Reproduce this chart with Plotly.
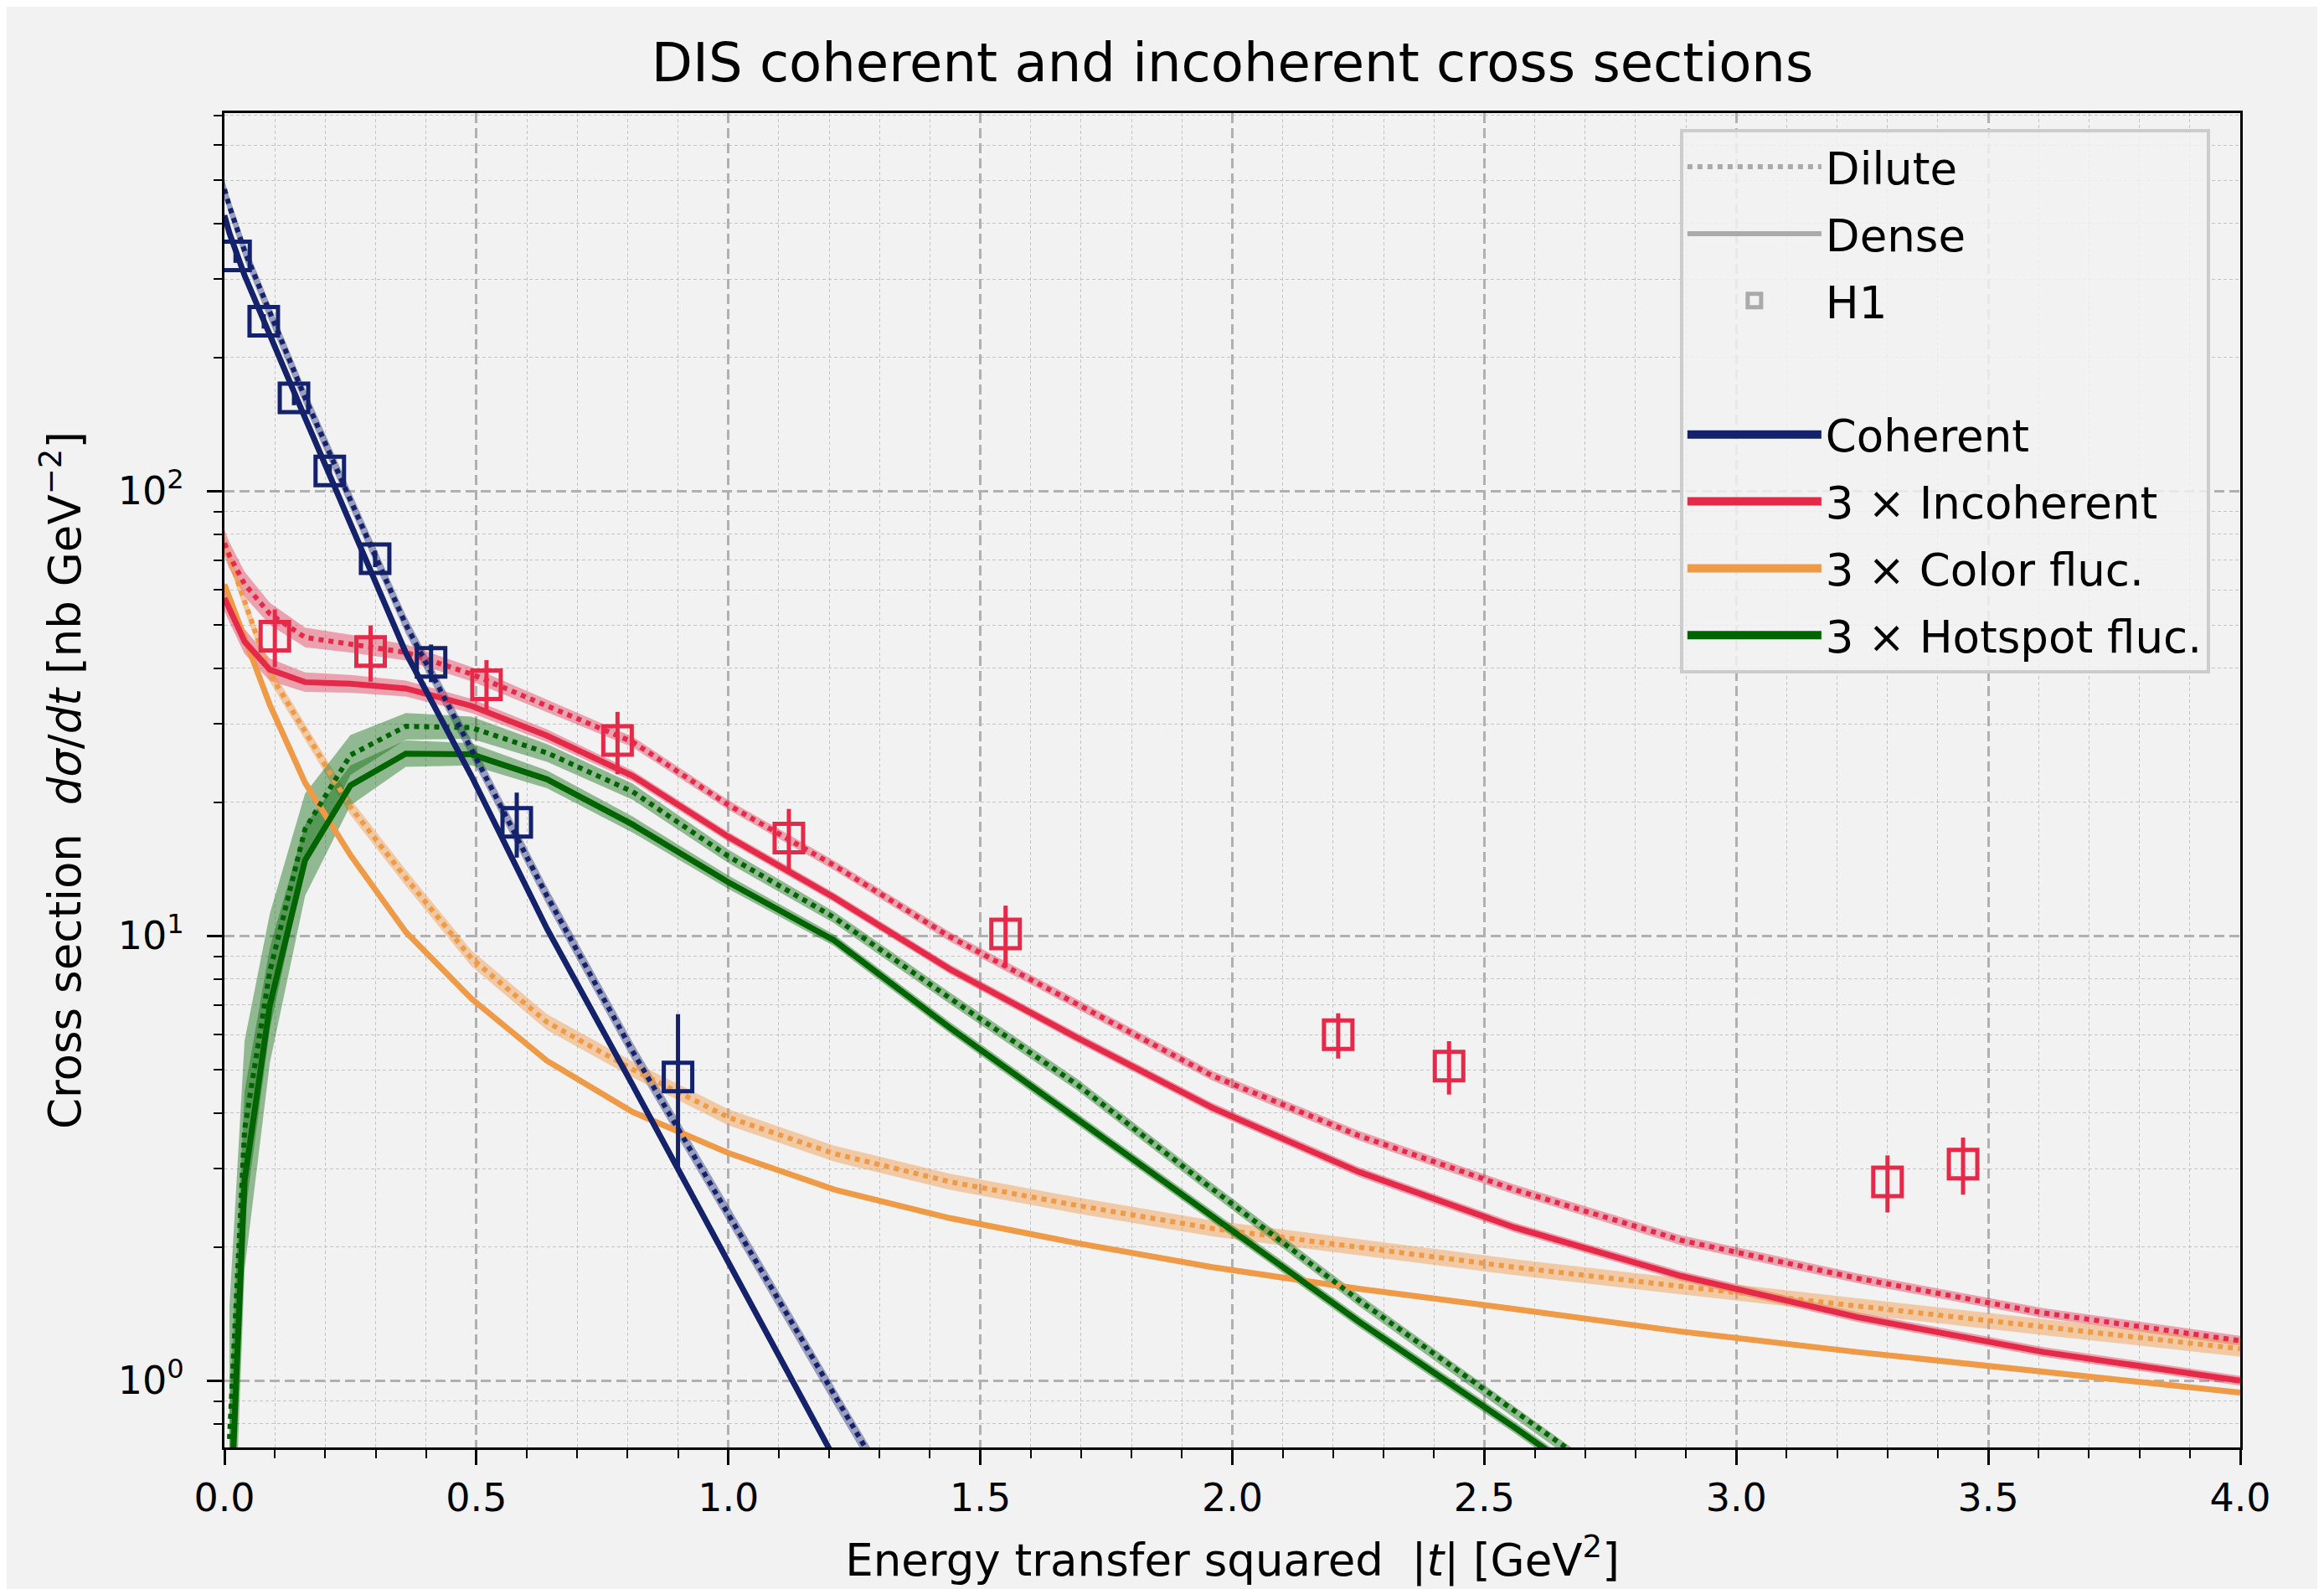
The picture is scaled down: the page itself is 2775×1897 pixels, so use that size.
import plotly.graph_objects as go

# ---------------- data ----------------
T = [0.0, 0.01, 0.04, 0.09, 0.16, 0.25, 0.36, 0.49, 0.64, 0.81, 1.0,
     1.21, 1.44, 1.69, 1.96, 2.25, 2.56, 2.89, 3.24, 3.61, 4.0]

coh_dense = [416.9, 380.2, 305.5, 223.9, 146.2, 84.5, 43.3, 22.9, 10.38, 4.62, 1.85, 0.67, 0.232]
coh_dilute = [477.5, 436.5, 346.7, 251.2, 162.2, 95.5, 50.1, 26.3, 12.3, 5.50, 2.37, 0.925, 0.335]

inc_dense = [57.5, 54.3, 45.9, 39.7, 37.2, 36.9, 36.0, 32.9, 28.2, 22.9, 16.7,
             12.2, 8.41, 5.92, 4.11, 2.95, 2.21, 1.72, 1.39, 1.16, 1.0]
inc_dilute = [76.4, 71.6, 61.8, 53.0, 46.9, 45.4, 43.4, 38.8, 32.9, 27.3, 19.7,
              14.4, 9.95, 7.05, 4.85, 3.56, 2.69, 2.07, 1.70, 1.42, 1.23]

col_dense = [61.7, 57.5, 46.9, 33.1, 22.1, 15.2, 10.2, 7.23, 5.24, 4.02, 3.25,
             2.69, 2.32, 2.04, 1.80, 1.61, 1.45, 1.29, 1.16, 1.05, 0.94]
col_dilute = [76.4, 70.8, 56.2, 38.9, 28.8, 19.5, 13.5, 8.91, 6.40, 5.01, 3.91,
              3.24, 2.80, 2.48, 2.20, 1.995, 1.80, 1.63, 1.47, 1.32, 1.18]

# hotspot fluctuations start at T[1]
hot_dense = [0.43, 2.82, 6.98, 14.8, 21.8, 25.7, 25.6, 22.5, 17.8, 13.2,
             9.77, 6.21, 3.89, 2.34, 1.36, 0.785, 0.427, 0.224, 0.115, 0.056]
hot_dilute = [0.74, 3.67, 8.32, 17.4, 25.5, 29.6, 29.4, 25.8, 21.1, 15.1,
              11.0, 7.24, 4.65, 2.70, 1.52, 0.851, 0.457, 0.240, 0.120, 0.059]

# uncertainty band half-widths (decades)
coh_dense_unc = [0.006] * 13
coh_dilute_unc = [0.02] * 13
inc_unc = [0.03, 0.03, 0.028, 0.025, 0.022, 0.02, 0.018, 0.016, 0.014, 0.012, 0.011,
           0.011, 0.011, 0.011, 0.011, 0.011, 0.011, 0.011, 0.011, 0.011, 0.011]
col_dense_unc = [0.006] * 21
col_dilute_unc = [0.018] * 21
hot_unc = [0.3, 0.2, 0.13, 0.08, 0.045, 0.03, 0.025, 0.02, 0.018, 0.015,
           0.013, 0.013, 0.013, 0.013, 0.013, 0.013, 0.013, 0.013, 0.013, 0.013]

# H1 data
h1_coh_t = [0.022, 0.078, 0.138, 0.209, 0.299, 0.41, 0.58, 0.90]
h1_coh = [338, 241, 162, 111, 70.5, 41.2, 18.0, 4.82]
h1_coh_err = [12, 9, 6, 4, 3, 4, 3, 1.85]

h1_inc_t = [0.10, 0.29, 0.52, 0.78, 1.12, 1.55, 2.21, 2.43, 3.30, 3.45]
h1_inc = [47.2, 43.6, 36.7, 27.5, 16.6, 10.1, 6.0, 5.1, 2.8, 3.07]
h1_inc_err = [7, 6.3, 5, 4.4, 2.7, 1.6, 0.7, 0.7, 0.41, 0.45]

NAVY = "#14216B"
RED = "#E42A48"
ORANGE = "#EF9A47"
GREEN = "#006400"

def rgba(hexc, a):
    h = hexc.lstrip("#")
    r, g, b = int(h[0:2], 16), int(h[2:4], 16), int(h[4:6], 16)
    return f"rgba({r},{g},{b},{a})"

fig = go.Figure()

def add_band(x, y, unc, color, alpha):
    lo = [v / 10 ** u for v, u in zip(y, unc)]
    hi = [v * 10 ** u for v, u in zip(y, unc)]
    fig.add_trace(go.Scatter(x=x, y=lo, mode="lines", line=dict(width=0, color=rgba(color, 0)),
                             showlegend=False, hoverinfo="skip"))
    fig.add_trace(go.Scatter(x=x, y=hi, mode="lines", line=dict(width=0, color=rgba(color, 0)),
                             fill="tonexty", fillcolor=rgba(color, alpha),
                             showlegend=False, hoverinfo="skip"))

def add_line(x, y, color, dash):
    fig.add_trace(go.Scatter(x=x, y=y, mode="lines",
                             line=dict(color=color, width=6 if dash else 7, dash=dash or "solid"),
                             showlegend=False))

# bands
add_band(T[:13], coh_dense, coh_dense_unc, NAVY, 0.35)
add_band(T[:13], coh_dilute, coh_dilute_unc, NAVY, 0.4)
add_band(T, inc_dense, inc_unc, RED, 0.4)
add_band(T, inc_dilute, inc_unc, RED, 0.4)
add_band(T, col_dense, col_dense_unc, ORANGE, 0.35)
add_band(T, col_dilute, col_dilute_unc, ORANGE, 0.45)
add_band(T[1:], hot_dense, hot_unc, GREEN, 0.4)
add_band(T[1:], hot_dilute, hot_unc, GREEN, 0.4)

# lines
add_line(T, col_dilute, ORANGE, "dot")
add_line(T, col_dense, ORANGE, None)
add_line(T[1:], hot_dilute, GREEN, "dot")
add_line(T[1:], hot_dense, GREEN, None)
add_line(T, inc_dilute, RED, "dot")
add_line(T, inc_dense, RED, None)
add_line(T[:13], coh_dilute, NAVY, "dot")
add_line(T[:13], coh_dense, NAVY, None)

# H1 data
for xs, ys, es, c in [(h1_coh_t, h1_coh, h1_coh_err, NAVY), (h1_inc_t, h1_inc, h1_inc_err, RED)]:
    fig.add_trace(go.Scatter(x=xs, y=ys, mode="markers",
                             marker=dict(symbol="square-open", size=34, color=c, line=dict(width=5, color=c)),
                             error_y=dict(type="data", array=es, visible=True, color=c, thickness=5, width=0),
                             showlegend=False))

# legend entries
GRAY = "#aaaaaa"
leg = [
    dict(name="Dilute", mode="lines", line=dict(color=GRAY, width=6, dash="dot")),
    dict(name="Dense", mode="lines", line=dict(color=GRAY, width=6)),
    dict(name="H1", mode="markers", marker=dict(symbol="square-open", size=30, color=GRAY, line=dict(width=5, color=GRAY))),
    dict(name=" ", mode="lines", line=dict(color="rgba(0,0,0,0)", width=1)),
    dict(name="Coherent", mode="lines", line=dict(color=NAVY, width=26)),
    dict(name="3 × Incoherent", mode="lines", line=dict(color=RED, width=26)),
    dict(name="3 × Color fluc.", mode="lines", line=dict(color=ORANGE, width=26)),
    dict(name="3 × Hotspot fluc.", mode="lines", line=dict(color=GREEN, width=26)),
]
for i, d in enumerate(leg):
    fig.add_trace(go.Scatter(x=[None], y=[None], showlegend=True, legendgroup=f"g{i}", **d))

FONT = "DejaVu Sans"
minor_y = [m * 10 ** e for e in (-1, 0, 1, 2) for m in range(2, 10)]

fig.update_layout(
    width=2775, height=1897,
    paper_bgcolor="#f2f2f2", plot_bgcolor="#f2f2f2",
    font=dict(family=FONT, size=46, color="black"),
    margin=dict(l=260, r=108, t=127, b=177),
    title=dict(text="DIS coherent and incoherent cross sections", x=0.5, xref="paper",
               y=1 - 67 / 1897, yref="container", yanchor="middle",
               font=dict(size=64, family=FONT, color="black")),
    showlegend=True,
    legend=dict(x=0.722, y=0.988, xanchor="left", yanchor="top",
                bgcolor="rgba(242,242,242,0.85)", bordercolor="#cccccc", borderwidth=4,
                font=dict(size=53, family=FONT, color="black"),
                traceorder="grouped", tracegroupgap=8, itemwidth=160, itemsizing="trace"),
)

fig.update_xaxes(
    range=[0, 4], tickmode="linear", tick0=0, dtick=0.5, tickformat=".1f",
    showline=True, linecolor="black", linewidth=3, mirror=True,
    ticks="outside", ticklen=18, tickwidth=3, tickcolor="black",
    showgrid=True, gridcolor="#b0b0b0", gridwidth=2.5, griddash="12px,6px",
    zeroline=False,
    minor=dict(dtick=0.1, tick0=0, ticks="outside", ticklen=10, tickwidth=2, tickcolor="black",
               showgrid=True, gridcolor="#c4c4c4", gridwidth=1.3, griddash="4px,3px"),
    title=dict(text="Energy transfer squared \u00a0|<i>t</i>| [GeV<sup>2</sup>]",
               font=dict(size=53, family=FONT), standoff=30),
)

fig.update_yaxes(
    type="log", range=[-0.15, 2.85],
    tickmode="array", tickvals=[1, 10, 100],
    ticktext=["10<sup>0</sup>", "10<sup>1</sup>", "10<sup>2</sup>"],
    ticklabelstandoff=18,
    showline=True, linecolor="black", linewidth=3, mirror=True,
    ticks="outside", ticklen=18, tickwidth=3, tickcolor="black",
    showgrid=True, gridcolor="#b0b0b0", gridwidth=2.5, griddash="12px,6px",
    zeroline=False,
    minor=dict(tickmode="array", tickvals=minor_y, ticks="outside", ticklen=10, tickwidth=2,
               tickcolor="black", showgrid=True, gridcolor="#c4c4c4", gridwidth=1.3, griddash="4px,3px"),
    title=dict(text="Cross section \u00a0<i>dσ</i>/<i>dt</i> [nb GeV<sup>−2</sup>]",
               font=dict(size=53, family=FONT), standoff=28),
)

fig.write_html("out.html")
